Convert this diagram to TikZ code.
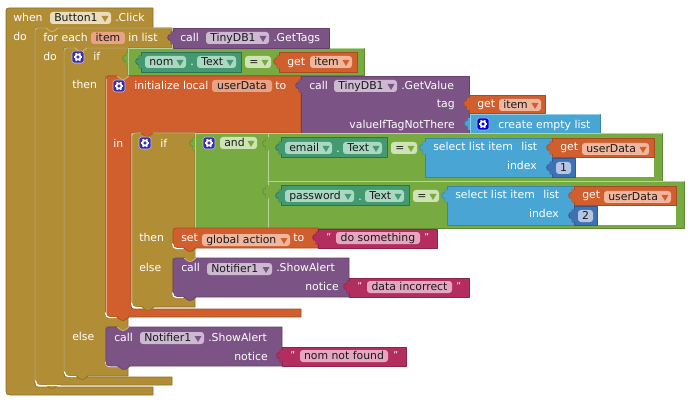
\documentclass[tikz,border=0pt]{standalone}
\usepackage{fontspec}
\setmainfont{DejaVu Sans}
\definecolor{must}{HTML}{B18E35}\definecolor{mustD}{HTML}{8E7128}\definecolor{mustL}{HTML}{D3BE85}
\definecolor{oran}{HTML}{D05F2D}\definecolor{oranD}{HTML}{A64C24}\definecolor{oranL}{HTML}{E8A285}
\definecolor{purp}{HTML}{7C5385}\definecolor{purpD}{HTML}{63426A}\definecolor{purpL}{HTML}{B79DBD}
\definecolor{gree}{HTML}{77AB41}\definecolor{greeD}{HTML}{5F8934}\definecolor{greeL}{HTML}{B5D496}
\definecolor{teal1}{HTML}{439970}\definecolor{tealD}{HTML}{2F7055}\definecolor{tealL}{HTML}{8CC8AB}
\definecolor{skyb}{HTML}{49A6D4}\definecolor{skyD}{HTML}{3A85AA}\definecolor{skyL}{HTML}{93CCE8}
\definecolor{strg}{HTML}{B32D5E}\definecolor{strD}{HTML}{8F244B}
\definecolor{numb}{HTML}{3F71B5}\definecolor{numD}{HTML}{325A91}
\definecolor{gearb}{HTML}{3A2FA8}
\definecolor{fMust}{HTML}{E9DDBD}\definecolor{fOran}{HTML}{F0B79E}\definecolor{fPurp}{HTML}{CDBAD2}
\definecolor{fTeal}{HTML}{ABD8C2}\definecolor{fGree}{HTML}{CFE4B4}\definecolor{fStr}{HTML}{E6A6C1}\definecolor{fNum}{HTML}{B4C6E4}
\newcounter{tn}
\tikzset{
  lbl/.style={inner sep=0pt,text=white,font=\fontsize{8.15pt}{10pt}\selectfont},
  fldtxt/.style={inner sep=0pt,text=black!90,font=\fontsize{8.15pt}{10pt}\selectfont},
  blk/.style 2 args={fill=#1,draw=#2,line width=0.5pt,line join=round},
  hl/.style={draw=#1,line width=0.5pt,line cap=round},
  gapline/.style={draw=white,line width=.9pt,line cap=round},
}
% corner pieces: top-left, inner bottom-left, outer bottom-left
\newcommand\tl[2]{(#1,#2+3) .. controls (#1,#2+1) and (#1+1,#2) .. (#1+3,#2)}
\newcommand\il[2]{(#1,#2-3) .. controls (#1,#2-1) and (#1+1,#2) .. (#1+3,#2)}
\newcommand\ol[2]{(#1+4,#2) .. controls (#1+1,#2) and (#1,#2-1) .. (#1,#2-4)}
\newcommand\lab[3]{\stepcounter{tn}\node[lbl,anchor=base west,name=t\thetn] at (#1,#2) {#3};}
\newcommand\rlab[3]{\stepcounter{tn}\node[lbl,anchor=base east,name=t\thetn] at (#1,#2) {#3};}
\newcommand\fld[6]{\fill[#5,rounded corners=2.2pt] (#1,#3) rectangle (#2,#3+12);
  \stepcounter{tn}\node[fldtxt,anchor=base west,name=t\thetn] at (#1+4,#3+9.8) {#4};
  \fill[#6] (#2-9.5,#3+4) -- (#2-2.5,#3+4) -- (#2-6,#3+10) -- cycle;}
\newcommand\pfld[5]{\fill[#5,rounded corners=2.2pt] (#1,#3) rectangle (#2,#3+12);
  \stepcounter{tn}\node[fldtxt,anchor=base,name=t\thetn] at ({(#1+#2)/2},#3+9.8) {#4};}
\newcommand\tb[4]{\path[blk={#3}{#4}] (#1+.6,#2) -- (#1-2,#2) -- (#1-2,#2+2.5) .. controls (#1-6.5,#2+1.5) and (#1-6.5,#2+9.5) .. (#1-2,#2+8.5) -- (#1-2,#2+12) -- (#1+.6,#2+12);
  \fill[#3] (#1-1.8,#2+.3) rectangle (#1+1,#2+11.7);}
\newcommand\bump[4]{\path[blk={#3}{#4}] (#1-6,#2) .. controls (#1-4,#2) and (#1-4,#2+3.5) .. (#1,#2+3.5) .. controls (#1+4,#2+3.5) and (#1+4,#2) .. (#1+6,#2);
  \fill[#3] (#1-5,#2-1) rectangle (#1+5,#2+.4);}
\newcommand\gear[3][gearb]{\begin{scope}[shift={(#2,#3)}]
  \fill[#1,rounded corners=2pt] (-6,-6) rectangle (6,6);
  \draw[#1!30!white,line width=.4pt,rounded corners=2pt] (-6,-6) rectangle (6,6);
  \draw[white,line width=1.3pt] (0,0) circle (2.6);
  \foreach \a in {0,60,...,300}{\draw[white,line width=1.1pt] (\a:2.8) -- (\a:4.3);}
\end{scope}}
\begin{document}
\begin{tikzpicture}[x=0.75pt,y=-0.75pt]
\useasboundingbox (0,0) rectangle (690,403);
\fill[white] (0,0) rectangle (690,403);
% ---- when
\path[blk={must}{mustD}] \tl{6}{8} -- (153,8) -- (153,28) -- (35,28) -- \il{35}{387} -- (153,387) -- (153,395) -- \ol{6}{395} -- cycle;
% ---- for each
\path[blk={must}{mustD}] \tl{35}{28} -- (172,28) -- (172,48) -- (64,48) -- \il{64}{377} -- (172,377) -- (172,385) -- \ol{35}{385} -- cycle;
\bump{52}{385}{must}{mustD}
% ---- outer if
\path[blk={must}{mustD}] \tl{64}{48} -- (128,48) -- (128,76) -- (106,76) -- \il{106}{317} -- (128,317) -- (128,327) -- (106,327) -- \il{106}{366} -- (128,366) -- (128,376) -- \ol{64}{376} -- cycle;
\bump{82}{376}{must}{mustD}
\draw[hl=mustL] \tl{35}{28} -- (172,28) (35,31) -- (35,381);
\draw[hl=mustL] \tl{64}{48} -- (128,48) (64,51) -- (64,372);
\bump{52}{28}{must}{mustL}
\bump{81}{48}{must}{mustL}
\draw[gapline] (35.5,381) .. controls (36,384) and (37,385.6) .. (40,385.6) -- (60,385.6);
\draw[gapline] (64.5,372) .. controls (65,375) and (66,376.6) .. (69,376.6) -- (76,376.6);
% ---- green condition
\path[blk={gree}{greeD}] (128,48) -- (364,48) -- (364,75) -- (128,75) -- cycle;
\tb{128}{53}{gree}{greeD}
\draw[hl=greeL] (128,75) -- (128,48) -- (364,48);
% nom . Text
\path[blk={teal1}{tealD}] (141,52) -- (241,52) -- (241,72) -- (141,72) -- cycle;
\tb{141}{56}{teal1}{tealD}
\fld{145}{186}{56}{nom}{fTeal}{teal1}
\lab{190}{66}{.}
\fld{197}{236}{56}{Text}{fTeal}{teal1}
\fld{245}{271}{56}{=}{fGree}{gree}
% get item
\path[blk={oran}{oranD}] (279,52) -- (357,52) -- (357,72) -- (279,72) -- cycle;
\tb{279}{56}{oran}{oranD}
\lab{287}{66}{get}
\fld{310}{352}{56}{item}{fOran}{oran}
% ---- orange init
\path[blk={oran}{oranD}] \tl{106}{76} -- (301,76) -- (301,133) -- (131,133) -- \il{131}{309} -- (301,309) -- (301,317) -- \ol{106}{317} -- cycle;
\bump{123}{317}{oran}{oranD}
\bump{123}{76}{must}{mustL}
\draw[gapline] (105.6,313) .. controls (106,316) and (107,317.6) .. (110,317.6) -- (116,317.6);
\draw[hl=oranL] (106,79) -- (106,313);
\draw[gapline] (105.6,362) .. controls (106,365) and (107,366.6) .. (110,366.6) -- (117,366.6);
% ---- GetTags
\path[blk={purp}{purpD}] (173,28) -- (329,28) -- (329,48) -- (173,48) -- cycle;
\tb{173}{32}{purp}{purpD}
% ---- GetValue
\path[blk={purp}{purpD}] (301,76) -- (469,76) -- (469,133) -- (301,133) -- cycle;
\tb{301}{80}{purp}{purpD}
% get item (tag)
\path[blk={oran}{oranD}] (469,95) -- (545,95) -- (545,113) -- (469,113) -- cycle;
\tb{469}{98}{oran}{oranD}
% create empty list
\path[blk={skyb}{skyD}] (470,114) -- (600,114) -- (600,133) -- (470,133) -- cycle;
\tb{470}{118}{skyb}{skyD}
\draw[hl=skyL] (470,133) -- (470,114) -- (600,114);
% ---- inner if
\path[blk={must}{mustD}] \tl{132}{133} -- (195,133) -- (195,228) -- (195,258) -- (173,258) -- \il{173}{297} -- (195,297) -- (195,307) -- \ol{132}{307} -- cycle;
\fill[must] (173,228) rectangle (195,258);
\bump{148}{307}{must}{mustD}
\draw[hl=mustL] (132,136) -- (132,303) \tl{132}{133} -- (195,133);
\bump{147}{133}{oran}{oranD}
\draw[gapline] (131.6,303) .. controls (132,306) and (133,307.6) .. (136,307.6) -- (141,307.6);
% ---- and block
\path[blk={gree}{greeD}] (195,133) -- (269,133) -- (269,228) -- (195,228) -- cycle;
\tb{195}{138}{gree}{greeD}
\path[blk={gree}{greeD}] (268,133) -- (662,133) -- (662,181) -- (268,181) -- cycle;
\path[blk={gree}{greeD}] (268,181) -- (684,181) -- (684,228) -- (268,228) -- cycle;
\draw[hl=greeL] (195,228) -- (195,133) -- (662,133) (268,133) -- (268,228) (268,181) -- (684,181);
\tb{268}{138}{gree}{greeD}
\tb{268}{186}{gree}{greeD}
% email
\path[blk={teal1}{tealD}] (281,137) -- (387,137) -- (387,157) -- (281,157) -- cycle;
\tb{281}{142}{teal1}{tealD}
\fld{285}{332}{142}{email}{fTeal}{teal1}
\lab{336}{152}{.}
\fld{343}{382}{142}{Text}{fTeal}{teal1}
\fld{391}{417}{142}{=}{fGree}{gree}
% select 1
\fill[white] (552,157) rectangle (654,177);
\path[blk={skyb}{skyD}] (425,138) -- (552,138) -- (552,177) -- (425,177) -- cycle;
\tb{425}{142}{skyb}{skyD}
\path[blk={oran}{oranD}] (552,138) -- (654,138) -- (654,157) -- (552,157) -- cycle;
\tb{552}{142}{oran}{oranD}
\lab{560}{151}{get}
\fld{582}{649}{143}{userData}{fOran}{oran}
\path[blk={numb}{numD}] (552,158) -- (575,158) -- (575,177) -- (552,177) -- cycle;
\tb{552}{162}{numb}{numD}
\pfld{556}{571}{162}{1}{fNum}
% password
\path[blk={teal1}{tealD}] (281,185) -- (409,185) -- (409,205) -- (281,205) -- cycle;
\tb{281}{190}{teal1}{tealD}
\fld{285}{354}{190}{password}{fTeal}{teal1}
\lab{358}{200}{.}
\fld{365}{404}{190}{Text}{fTeal}{teal1}
\fld{413}{439}{190}{=}{fGree}{gree}
% select 2
\fill[white] (574,205) rectangle (676,225);
\path[blk={skyb}{skyD}] (447,186) -- (574,186) -- (574,225) -- (447,225) -- cycle;
\tb{447}{190}{skyb}{skyD}
\path[blk={oran}{oranD}] (574,186) -- (676,186) -- (676,205) -- (574,205) -- cycle;
\tb{574}{190}{oran}{oranD}
\lab{582}{199}{get}
\fld{604}{671}{191}{userData}{fOran}{oran}
\path[blk={numb}{numD}] (574,206) -- (597,206) -- (597,225) -- (574,225) -- cycle;
\tb{574}{210}{numb}{numD}
\pfld{578}{593}{210}{2}{fNum}
% set
\path[blk={oran}{oranD}] \tl{173}{228} -- (318,228) -- (318,248) -- \ol{173}{248} -- cycle;
\bump{190}{248}{oran}{oranD}
\draw[gapline] (172.6,244) .. controls (173,247) and (174,248.6) .. (177,248.6) -- (183,248.6);
\path[blk={strg}{strD}] (318,229) -- (437,229) -- (437,248) -- (318,248) -- cycle;
\tb{318}{232}{strg}{strD}
% notifier inner
\path[blk={purp}{purpD}] \tl{173}{258} -- (349,258) -- (349,297) -- \ol{173}{297} -- cycle;
\bump{190}{297}{purp}{purpD}
\bump{190}{258}{must}{mustL}
\draw[gapline] (172.6,293) .. controls (173,296) and (174,297.6) .. (177,297.6) -- (183,297.6);
\path[blk={strg}{strD}] (349,278) -- (469,278) -- (469,297) -- (349,297) -- cycle;
\tb{349}{281}{strg}{strD}
% notifier outer
\path[blk={purp}{purpD}] \tl{106}{327} -- (282,327) -- (282,366) -- \ol{106}{366} -- cycle;
\bump{124}{366}{purp}{purpD}
\bump{123}{327}{must}{mustL}
\path[blk={strg}{strD}] (282,347) -- (406,347) -- (406,366) -- (282,366) -- cycle;
\tb{282}{350}{strg}{strD}
% ---- texts
\lab{13}{22}{when}
\fld{50}{111}{12}{Button1}{fMust}{must}
\lab{115}{22}{.Click}
\lab{13}{41}{do}
\lab{43}{42}{for each}
\pfld{91}{125}{32}{item}{oranL}
\lab{128}{42}{in list}
\lab{180}{42}{call}
\fld{206}{269}{32}{TinyDB1}{fPurp}{purp}
\lab{273}{42}{.GetTags}
\lab{43}{61}{do}
\gear{78}{57}
\lab{93}{61}{if}
\lab{72}{89}{then}
\gear{119}{86}
\lab{134}{90}{initialize local}
\pfld{212}{272}{80}{userData}{oranL}
\lab{275}{90}{to}
\lab{309}{90}{call}
\fld{334}{397}{80}{TinyDB1}{fPurp}{purp}
\lab{401}{90}{.GetValue}
\rlab{455}{108}{tag}
\lab{477}{108}{get}
\fld{499}{541}{99}{item}{fOran}{oran}
\rlab{455}{128}{valueIfTagNotThere}
\gear[blue!85!black]{483}{124}
\lab{498}{128}{create empty list}
\lab{113}{147}{in}
\gear{145}{143}
\lab{160}{147}{if}
\gear{209}{143}
\fld{220}{257}{137}{and}{fGree}{gree}
\lab{433}{151}{select list item}
\lab{521}{151}{list}
\rlab{537}{170}{index}
\lab{455}{199}{select list item}
\lab{543}{199}{list}
\rlab{559}{218}{index}
\lab{139}{241}{then}
\lab{181}{242}{set}
\fld{202}{290}{234}{global action}{fOran}{oran}
\lab{293}{242}{to}
\lab{326}{240}{\scriptsize ”}
\pfld{336}{420}{232}{do something}{fStr}
\lab{424}{240}{\scriptsize ”}
\lab{139}{271}{else}
\lab{181}{272}{call}
\fld{207}{272}{263}{Notifier1}{fPurp}{purp}
\lab{276}{272}{.ShowAlert}
\rlab{339}{291}{notice}
\lab{357}{289}{\scriptsize ”}
\pfld{367}{452}{281}{data incorrect}{fStr}
\lab{456}{289}{\scriptsize ”}
\lab{72}{340}{else}
\lab{114}{341}{call}
\fld{140}{204}{332}{Notifier1}{fPurp}{purp}
\lab{208}{341}{.ShowAlert}
\rlab{268}{360}{notice}
\lab{290}{358}{\scriptsize ”}
\pfld{300}{388}{350}{nom not found}{fStr}
\lab{393}{358}{\scriptsize ”}
\end{tikzpicture}
\end{document}
